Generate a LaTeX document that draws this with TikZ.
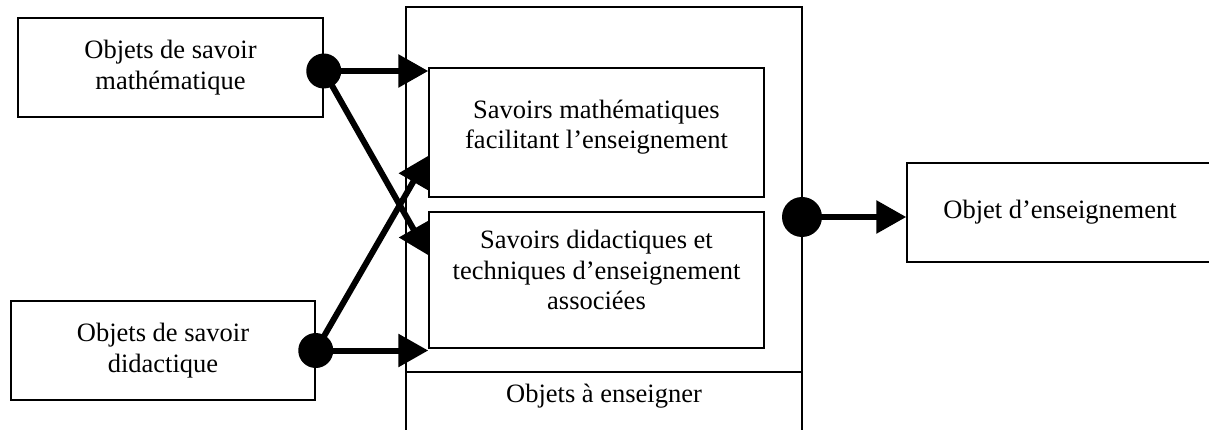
\documentclass[tikz,border=0pt]{standalone}
\usepackage{fontspec}
\setmainfont{Liberation Serif}
\usetikzlibrary{arrows.meta,calc}
\tikzset{boite/.style={draw, line width=1.5pt, align=center, inner sep=0pt, font=\fontsize{26.5}{30.5}\selectfont},
  point/.style={circle, fill, inner sep=0pt, minimum size=35pt},
  fleche/.style={line width=6pt, -{Triangle[length=30pt,width=32pt]}}}

\begin{document}
\begin{tikzpicture}[x=1pt,y=-1pt]
  \useasboundingbox (0,0) rectangle (1209,430);
  \begin{scope}
   \clip (0,0) rectangle (1209,430);
   \node[boite, minimum width=396pt, minimum height=433pt] (cadre) at (604,223.5) {};
   \draw[line width=1.5pt] (406,372) -- (802,372);
   \node[boite, minimum width=306pt, minimum height=99pt] (objens) at (1060,212.5) {Objet d’enseignement};
  \end{scope}
  \node[font=\fontsize{26.5}{30.5}\selectfont] (aens) at (604,396) {Objets à enseigner};
  \node[boite, minimum width=305pt, minimum height=99pt] (savmath) at (170.5,67.5) {Objets de savoir\\mathématique};
  \node[boite, minimum width=304pt, minimum height=99pt] (savdid) at (163,350.5) {Objets de savoir\\didactique};
  \node[boite, minimum width=335pt, minimum height=129pt, text depth=16pt] (smf) at (596.5,132.5) {Savoirs mathématiques\\facilitant l’enseignement};
  \node[boite, minimum width=335pt, minimum height=136pt, text depth=20pt] (sdt) at (596.5,280) {Savoirs didactiques et\\techniques d’enseignement\\associées};
  \node[point] (d1) at ($(savmath.east)+(0,3.5)$) {};
  \node[point] (d2) at (savdid.east) {};
  \node[point, minimum size=40pt] (d3) at (802,217) {};
  \draw[fleche] (d1.center) -- (smf.west |- d1);
  \draw[fleche] (d1.center) -- ([yshift=-44pt]sdt.north west);
  \draw[fleche] (d2.center) -- ([yshift=42pt]smf.south west);
  \draw[fleche] (d2.center) -- (sdt.west |- d2);
  \draw[fleche] (d3.center) -- (objens.west |- d3);
\end{tikzpicture}
\end{document}
